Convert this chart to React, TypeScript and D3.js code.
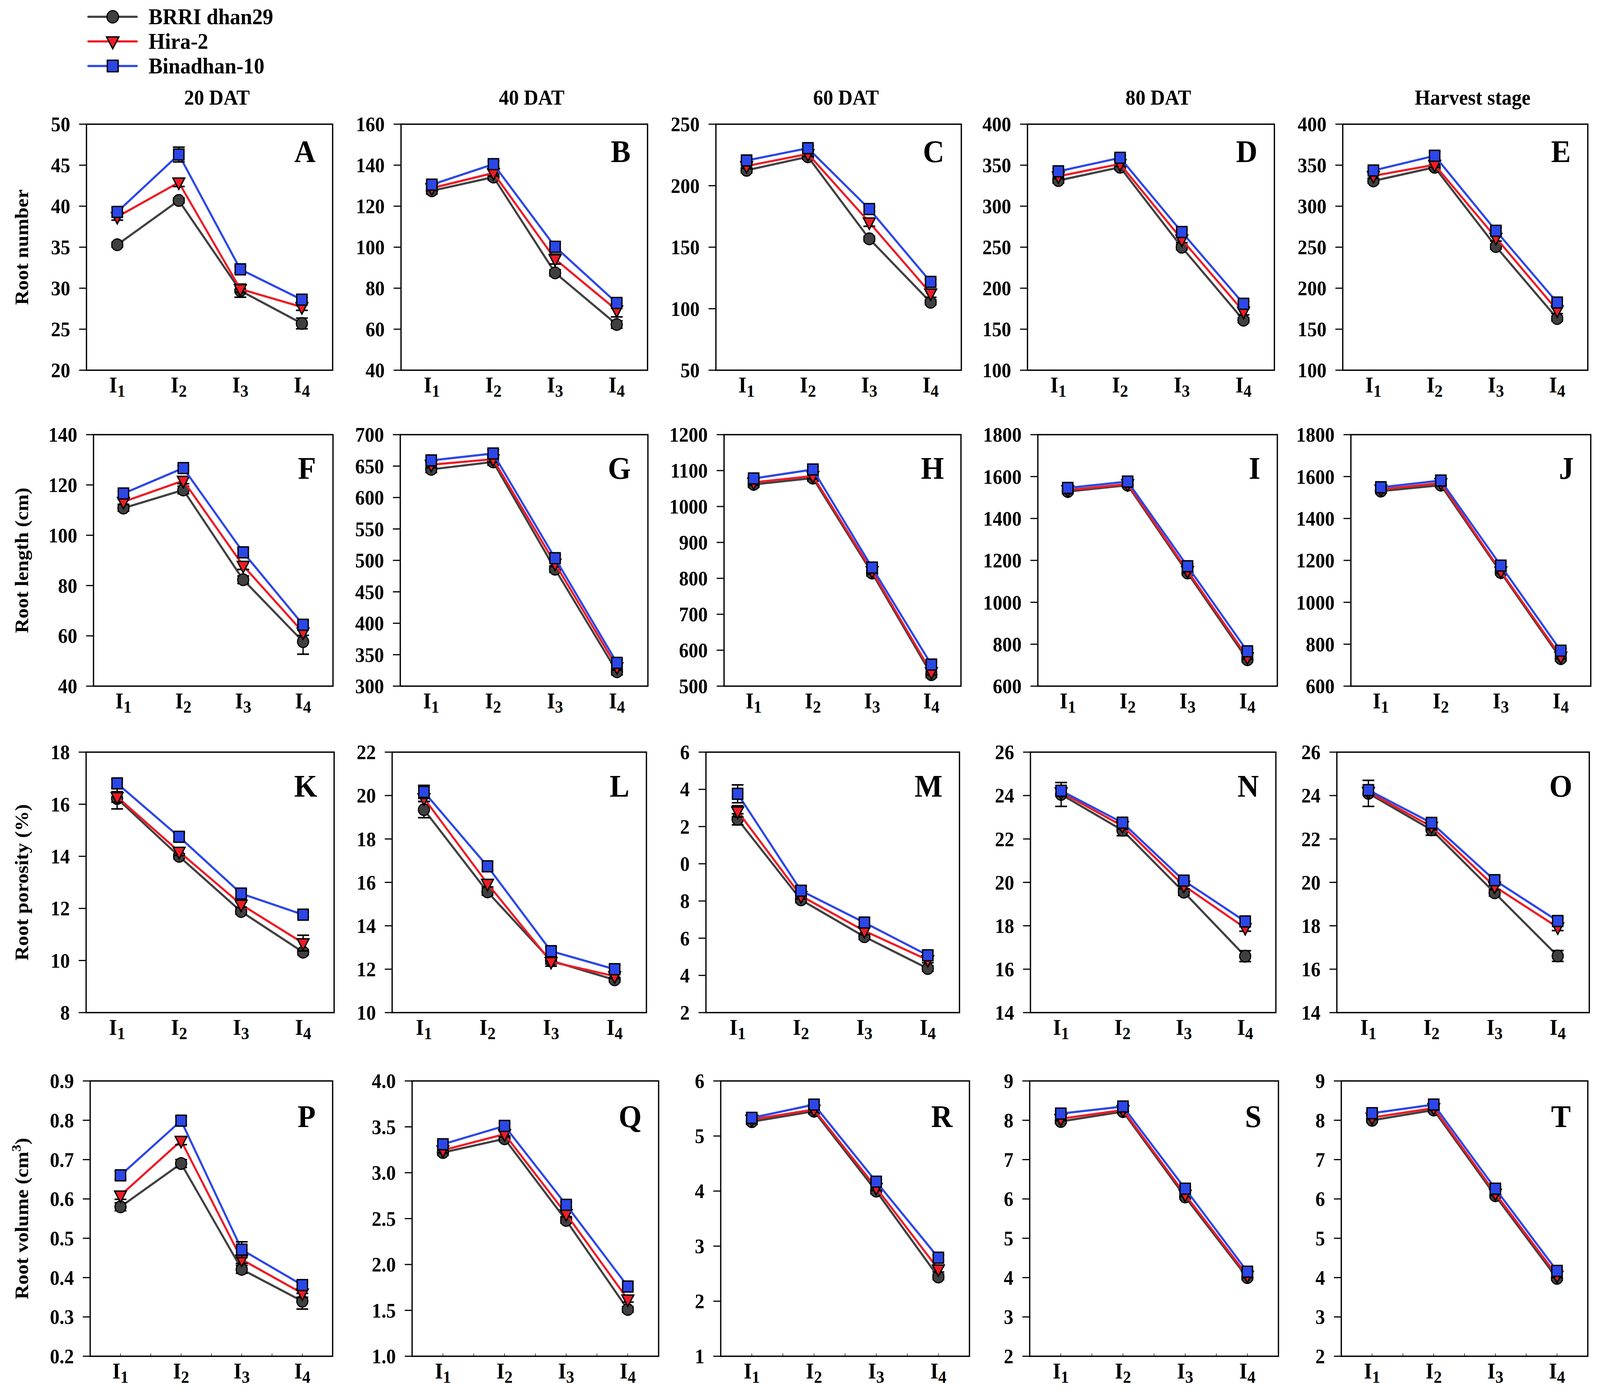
import * as d3 from "d3";
import React from "react";

const W = 4329;
const H = 3585;
const FONT = "'Liberation Serif', 'Times New Roman', Times, serif";

const SERIES = ["BRRI dhan29", "Hira-2", "Binadhan-10"];
const COLORS = ["#404040", "#ee1c25", "#2b47e8"];
const SHAPES = ["circle", "triangle", "square"];
const CATEGORIES = ["1", "2", "3", "4"]; // subscripts of I
const STAGES = ["20 DAT", "40 DAT", "60 DAT", "80 DAT", "Harvest stage"];
const ROW_TITLES = ["Root number", "Root length (cm)", "Root porosity (%)", "Root volume (cm"];

// values per panel: [BRRI dhan29, Hira-2, Binadhan-10] x [I1..I4]
const A_VAL = [[35.3, 40.7, 29.7, 25.7], [38.7, 42.9, 29.9, 27.7], [39.3, 46.3, 32.3, 28.6]];
const A_ERR = [[0.3, 0.3, 0.8, 0.65], [0.4, 0.5, 0.4, 0.4], [0.5, 0.9, 0.4, 0.3]];
const B_VAL = [[127.5, 134.2, 87.5, 62.3], [128.8, 136.2, 94.2, 69.3], [130.5, 140.5, 100.2, 72.8]];
const B_ERR = [[1.5, 1.5, 1.5, 1.8], [1.2, 1.5, 2.4, 3.3], [1.2, 1.5, 1.5, 1.5]];
const C_VAL = [[212.5, 223.5, 156.8, 105.2], [216, 225.8, 170.2, 112.5], [220.5, 230.5, 181, 121.8]];
const C_ERR = [[2, 2, 2, 2], [2, 2, 3.2, 3.2], [2, 2, 2, 2]];
const D_VAL = [[331.3, 347.5, 250, 161], [336.5, 351.5, 259.5, 171.5], [342.5, 359, 268.5, 181]];
const D_ERR = [[3, 3, 3, 3], [3, 3, 4, 4], [3, 3, 3, 3]];
const E_VAL = [[330.8, 347.5, 250.8, 163], [337, 350.5, 261.5, 173], [343.5, 361.5, 270, 182.5]];
const E_ERR = [[3, 3, 3, 3], [3, 3, 4, 4], [3, 5, 4, 3]];

const F_VAL = [[110.8, 118, 82.3, 57.7], [113.3, 121.7, 87.9, 61.4], [116.6, 126.7, 93.2, 64.4]];
const F_ERR = [[1.2, 1.5, 1.5, 5], [1, 1.2, 1.5, 1.2], [1.2, 1, 1.5, 1.5]];
const G_VAL = [[644.8, 656.6, 486, 322.9], [652.2, 661, 495, 330.3], [659, 670, 503.5, 337]];
const G_ERR = [[5, 5, 5, 5], [5, 5, 5, 5], [5, 6, 5, 5]];
const H_VAL = [[1061.5, 1079, 814.7, 532], [1067, 1085, 820, 539], [1078, 1103, 830, 560]];
const H_ERR = [[8, 8, 8, 8], [8, 8, 8, 8], [8, 8, 8, 8]];
const I_VAL = [[1528.5, 1558.8, 1140, 726], [1535.6, 1564, 1150, 738], [1545.7, 1576, 1172, 766]];
const I_ERR = [[10, 10, 10, 10], [10, 10, 10, 10], [10, 12, 10, 10]];
const J_VAL = [[1530.6, 1558.8, 1142, 731], [1538.7, 1569, 1148, 741], [1548.8, 1581, 1175, 769]];
const J_ERR = [[10, 10, 10, 10], [10, 10, 10, 10], [10, 12, 10, 10]];

const K_VAL = [[16.22, 14.0, 11.88, 10.32], [16.28, 14.18, 12.15, 10.67], [16.8, 14.75, 12.57, 11.76]];
const K_ERR = [[0.4, 0.1, 0.1, 0.1], [0.2, 0.15, 0.1, 0.3], [0.15, 0.15, 0.15, 0.1]];
const L_VAL = [[19.35, 15.56, 12.39, 11.51], [19.88, 15.94, 12.34, 11.68], [20.17, 16.74, 12.83, 12.0]];
const L_ERR = [[0.37, 0.15, 0.15, 0.1], [0.15, 0.15, 0.2, 0.1], [0.3, 0.2, 0.2, 0.2]];
const M_VAL = [[12.39, 8.06, 6.08, 4.37], [12.82, 8.27, 6.39, 4.83], [13.76, 8.55, 6.84, 5.08]];
const M_ERR = [[0.3, 0.15, 0.15, 0.15], [0.3, 0.15, 0.2, 0.15], [0.48, 0.25, 0.25, 0.25]];
const N_VAL = [[24.05, 22.4, 19.55, 16.6], [24.15, 22.6, 19.85, 17.9], [24.22, 22.75, 20.08, 18.2]];
const N_ERR = [[0.55, 0.25, 0.15, 0.25], [0.15, 0.15, 0.15, 0.15], [0.15, 0.15, 0.15, 0.15]];
const O_VAL = [[24.1, 22.42, 19.52, 16.61], [24.17, 22.57, 19.81, 17.93], [24.25, 22.74, 20.1, 18.22]];
const O_ERR = [[0.6, 0.25, 0.15, 0.25], [0.15, 0.15, 0.15, 0.15], [0.15, 0.15, 0.15, 0.15]];

const P_VAL = [[0.58, 0.69, 0.421, 0.34], [0.609, 0.748, 0.446, 0.36], [0.66, 0.799, 0.471, 0.381]];
const P_ERR = [[0.01, 0.01, 0.01, 0.02], [0.01, 0.01, 0.01, 0.01], [0.01, 0.01, 0.02, 0.01]];
const Q_VAL = [[3.22, 3.37, 2.48, 1.51], [3.245, 3.42, 2.55, 1.62], [3.31, 3.51, 2.65, 1.76]];
const Q_ERR = [[0.03, 0.03, 0.03, 0.03], [0.03, 0.03, 0.03, 0.03], [0.03, 0.03, 0.03, 0.03]];
const R_VAL = [[5.26, 5.45, 4.0, 2.44], [5.3, 5.48, 4.06, 2.58], [5.33, 5.57, 4.17, 2.79]];
const R_ERR = [[0.05, 0.05, 0.05, 0.05], [0.05, 0.05, 0.05, 0.05], [0.05, 0.05, 0.05, 0.05]];
const S_VAL = [[7.97, 8.22, 6.05, 4.0], [8.04, 8.26, 6.11, 4.05], [8.17, 8.35, 6.26, 4.15]];
const S_ERR = [[0.05, 0.05, 0.05, 0.05], [0.05, 0.05, 0.05, 0.05], [0.05, 0.05, 0.05, 0.05]];
const T_VAL = [[8.0, 8.26, 6.08, 3.98], [8.07, 8.31, 6.14, 4.05], [8.18, 8.4, 6.26, 4.17]];
const T_ERR = [[0.05, 0.05, 0.05, 0.05], [0.05, 0.05, 0.05, 0.05], [0.05, 0.05, 0.05, 0.05]];

// y ticks
const TICKS_A = [20, 25, 30, 35, 40, 45, 50];
const TICKS_B = [40, 60, 80, 100, 120, 140, 160];
const TICKS_C = [50, 100, 150, 200, 250];
const TICKS_D = [100, 150, 200, 250, 300, 350, 400];
const TICKS_F = [40, 60, 80, 100, 120, 140];
const TICKS_G = [300, 350, 400, 450, 500, 550, 600, 650, 700];
const TICKS_H = [500, 600, 700, 800, 900, 1000, 1100, 1200];
const TICKS_I = [600, 800, 1000, 1200, 1400, 1600, 1800];
const TICKS_K = [8, 10, 12, 14, 16, 18];
const TICKS_L = [10, 12, 14, 16, 18, 20, 22];
const TICKS_M = [2, 4, 6, 8, 10, 12, 14, 16];
const LABELS_M = ["2", "4", "6", "8", "0", "2", "4", "6"];
const TICKS_N = [14, 16, 18, 20, 22, 24, 26];
const TICKS_P = [0.2, 0.3, 0.4, 0.5, 0.6, 0.7, 0.8, 0.9];
const TICKS_Q = [1.0, 1.5, 2.0, 2.5, 3.0, 3.5, 4.0];
const TICKS_R = [1, 2, 3, 4, 5, 6];
const TICKS_S = [2, 3, 4, 5, 6, 7, 8, 9];

type Panel = { key: string; values: number[][]; err: number[][]; ticks: number[]; labels?: string[]; fmt?: string };

const PANELS: Panel[] = [
  { key: "A", values: A_VAL, err: A_ERR, ticks: TICKS_A },
  { key: "B", values: B_VAL, err: B_ERR, ticks: TICKS_B },
  { key: "C", values: C_VAL, err: C_ERR, ticks: TICKS_C },
  { key: "D", values: D_VAL, err: D_ERR, ticks: TICKS_D },
  { key: "E", values: E_VAL, err: E_ERR, ticks: TICKS_D },
  { key: "F", values: F_VAL, err: F_ERR, ticks: TICKS_F },
  { key: "G", values: G_VAL, err: G_ERR, ticks: TICKS_G },
  { key: "H", values: H_VAL, err: H_ERR, ticks: TICKS_H },
  { key: "I", values: I_VAL, err: I_ERR, ticks: TICKS_I },
  { key: "J", values: J_VAL, err: J_ERR, ticks: TICKS_I },
  { key: "K", values: K_VAL, err: K_ERR, ticks: TICKS_K },
  { key: "L", values: L_VAL, err: L_ERR, ticks: TICKS_L },
  { key: "M", values: M_VAL, err: M_ERR, ticks: TICKS_M, labels: LABELS_M },
  { key: "N", values: N_VAL, err: N_ERR, ticks: TICKS_N },
  { key: "O", values: O_VAL, err: O_ERR, ticks: TICKS_N },
  { key: "P", values: P_VAL, err: P_ERR, ticks: TICKS_P, fmt: ".1f" },
  { key: "Q", values: Q_VAL, err: Q_ERR, ticks: TICKS_Q, fmt: ".1f" },
  { key: "R", values: R_VAL, err: R_ERR, ticks: TICKS_R },
  { key: "S", values: S_VAL, err: S_ERR, ticks: TICKS_S },
  { key: "T", values: T_VAL, err: T_ERR, ticks: TICKS_S },
];

// layout, in the reference's 4329 x 3585 pixel frame
const ROW_Y = [[318, 948], [1113, 1757], [1926, 2593], [2768, 3473]];
const BOX_X = [
  [[234, 900], [1085, 1752], [1937, 2601], [2780, 3448], [3633, 4296]],
  [[253, 901], [1083, 1753], [1959, 2600], [2808, 3456], [3655, 4304]],
  [[233, 904], [1061, 1749], [1910, 2596], [2788, 3452], [3617, 4300]],
  [[244, 900], [1115, 1782], [1950, 2623], [2786, 3459], [3629, 4296]],
];
const LETTER_DY = [97, 113, 114, 118];

function Marker({ shape, x, y, fill, s = 1 }: { shape: string; x: number; y: number; fill: string; s?: number }) {
  const stroke = "#000";
  if (shape === "circle") return <circle cx={x} cy={y} r={15 * s} fill={fill} stroke={stroke} strokeWidth={3} />;
  if (shape === "square") {
    const h = 14 * s;
    return <rect x={x - h} y={y - h} width={2 * h} height={2 * h} fill={fill} stroke={stroke} strokeWidth={3.5} />;
  }
  const p = `M${x - 16 * s},${y - 11 * s}L${x + 16 * s},${y - 11 * s}L${x},${y + 18 * s}Z`;
  return <path d={p} fill={fill} stroke={stroke} strokeWidth={3.5} strokeLinejoin="miter" />;
}

function PanelView({ panel, row, col }: { panel: Panel; row: number; col: number }) {
  const [x0, x1] = BOX_X[row][col];
  const [top, bottom] = ROW_Y[row];
  const ticks = panel.ticks;
  const y = d3.scaleLinear().domain([ticks[0], ticks[ticks.length - 1]]).range([bottom, top]);
  const x = d3.scalePoint<string>().domain(CATEGORIES).range([x0, x1]).padding(0.5);
  const fmt = panel.fmt ? d3.format(panel.fmt) : (d: number) => String(d);
  const line = d3
    .line<number>()
    .x((_, i) => x(CATEGORIES[i]) as number)
    .y((d) => y(d));

  return (
    <g>
      {ticks.map((t, i) => (
        <g key={t}>
          <line x1={x0 - 20} x2={x0} y1={y(t)} y2={y(t)} stroke="#000" strokeWidth={3} />
          <text
            x={x0 - 44}
            y={y(t)}
            dy="0.35em"
            textAnchor="end"
            fontSize={52}
            fontWeight="bold"
            fontFamily={FONT}
          >
            {panel.labels ? panel.labels[i] : fmt(t)}
          </text>
        </g>
      ))}
      {row === 3 &&
        d3.range(1, 8).map((k) => {
          const xx = x0 + ((x1 - x0) * k) / 8;
          return <line key={k} x1={xx} x2={xx} y1={bottom} y2={bottom - 7} stroke="#000" strokeWidth={1.5} />;
        })}
      {CATEGORIES.map((c) => (
        <text
          key={c}
          x={x(c)}
          y={bottom + 57}
          textAnchor="middle"
          fontSize={56}
          fontWeight="bold"
          fontFamily={FONT}
        >
          I
          <tspan dy={11} fontSize={44}>
            {c}
          </tspan>
        </text>
      ))}
      {panel.values.map((vals, si) => (
        <g key={si}>
          <path d={line(vals) ?? ""} fill="none" stroke={COLORS[si]} strokeWidth={5.5} strokeLinejoin="round" />
          {vals.map((v, i) => {
            const cx = x(CATEGORIES[i]) as number;
            const e = panel.err[si][i];
            const ya = y(v + e);
            const yb = y(v - e);
            return (
              <g key={i}>
                <line x1={cx} x2={cx} y1={ya} y2={yb} stroke="#000" strokeWidth={3.5} />
                <line x1={cx - 16} x2={cx + 16} y1={ya} y2={ya} stroke="#000" strokeWidth={4} />
                <line x1={cx - 16} x2={cx + 16} y1={yb} y2={yb} stroke="#000" strokeWidth={4} />
              </g>
            );
          })}
          {vals.map((v, i) => (
            <Marker key={"m" + i} shape={SHAPES[si]} x={x(CATEGORIES[i]) as number} y={y(v)} fill={COLORS[si]} />
          ))}
        </g>
      ))}
      <rect x={x0} y={top} width={x1 - x0} height={bottom - top} fill="none" stroke="#000" strokeWidth={3.5} />
      <text
        x={x1 - 46}
        y={top + LETTER_DY[row]}
        textAnchor="end"
        fontSize={80}
        fontWeight="bold"
        fontFamily={FONT}
      >
        {panel.key}
      </text>
    </g>
  );
}

export default function App() {
  // the window may be narrower than 4329 px, so the drawing is fitted to the viewport
  return (
    <svg
      viewBox={`0 0 ${W} ${H}`}
      preserveAspectRatio="none"
      style={{ position: "fixed", left: 0, top: 0, width: "100vw", height: "100vh", background: "#fff" }}
    >
      <rect width={W} height={H} fill="#fff" />
      {SERIES.map((s, i) => {
        const ly = 43 + i * 63;
        return (
          <g key={s}>
            <line x1={239} x2={370} y1={ly} y2={ly} stroke={COLORS[i]} strokeWidth={5.5} strokeLinecap="round" />
            <Marker shape={SHAPES[i]} x={305} y={ly} fill={COLORS[i]} s={1.05} />
            <text x={402} y={ly + 19} fontSize={57} fontWeight="bold" fontFamily={FONT}>
              {s}
            </text>
          </g>
        );
      })}
      {STAGES.map((s, c) => {
        const [a, b] = BOX_X[0][c];
        return (
          <text
            key={s}
            x={(a + b) / 2 + 20}
            y={268}
            textAnchor="middle"
            fontSize={54}
            fontWeight="bold"
            fontFamily={FONT}
          >
            {s}
          </text>
        );
      })}
      {ROW_TITLES.map((t, r) => {
        const cy = (ROW_Y[r][0] + ROW_Y[r][1]) / 2;
        return (
          <text
            key={t}
            transform={`translate(76,${cy}) rotate(-90)`}
            textAnchor="middle"
            fontSize={52}
            fontWeight="bold"
            fontFamily={FONT}
          >
            {t}
            {r === 3 && (
              <>
                <tspan dy={-20} fontSize={36}>
                  3
                </tspan>
                <tspan dy={20}>)</tspan>
              </>
            )}
          </text>
        );
      })}
      {PANELS.map((p, i) => (
        <PanelView key={p.key} panel={p} row={Math.floor(i / 5)} col={i % 5} />
      ))}
    </svg>
  );
}
